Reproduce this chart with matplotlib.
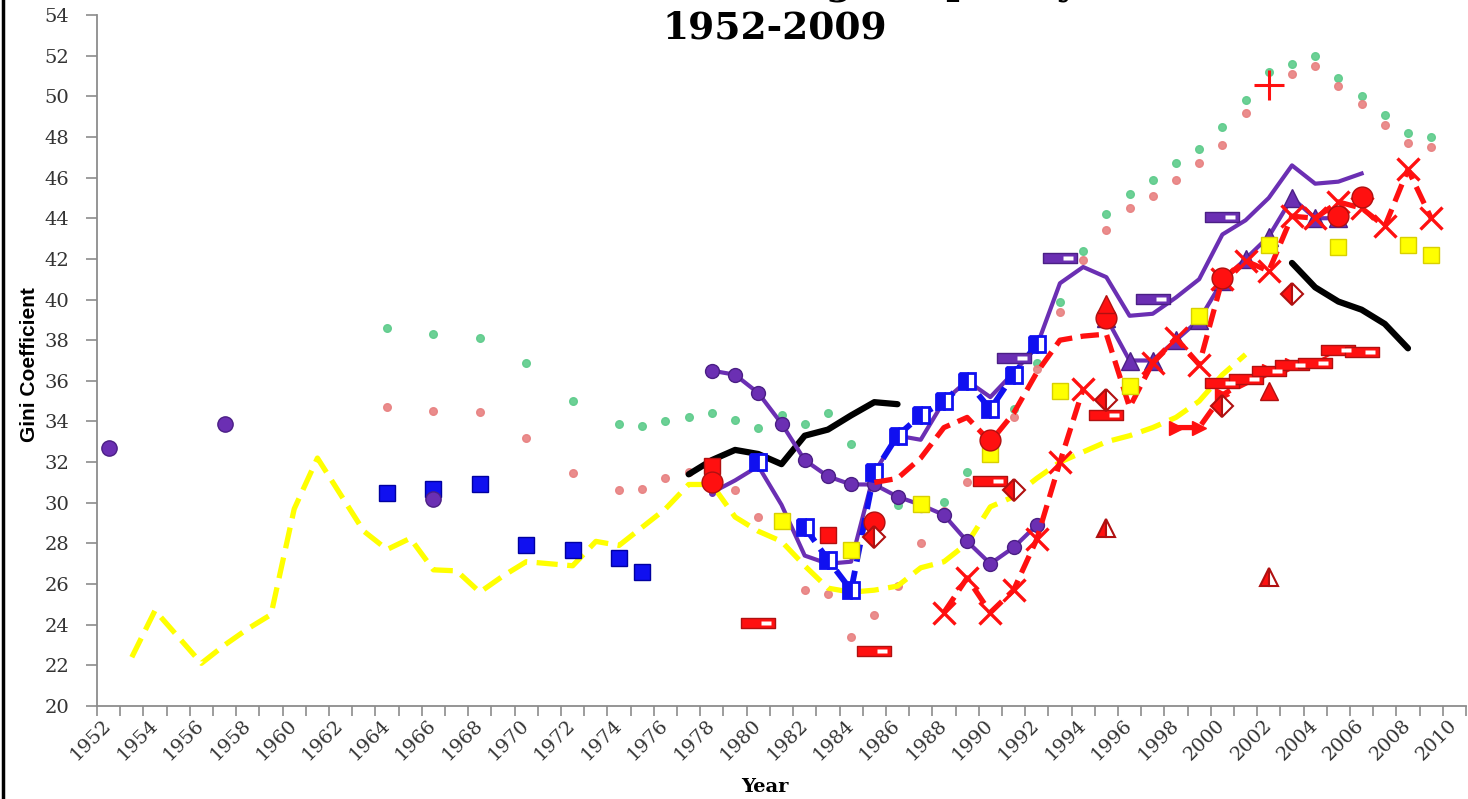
import matplotlib
matplotlib.use("Agg")
from matplotlib import pyplot as plt
from matplotlib.path import Path
from matplotlib.lines import Line2D
import numpy as np

nan = np.nan

# ---- data (Gini coefficient x 100) ----
yellow_years = list(range(1953, 2002))
yellow_gini = [22.4, 24.7, 23.4, 22.1, 23.0, 23.8, 24.5, 29.7, 32.2, 30.4,
               28.6, 27.7, 28.25, 26.7, 26.65, 25.6, 26.4, 27.1, 27.0, 26.9,
               28.1, 27.9, 28.8, 29.7, 30.9, 30.9, 29.3, 28.6, 28.1, 26.9,
               25.8, 25.6, 25.7, 25.9, 26.8, 27.1, 28.0, 29.8, 30.3, 31.2,
               32.0, 32.5, 33.0, 33.3, 33.7, 34.2, 35.0, 36.3, 37.3]

black1_years = list(range(1977, 1987))
black1_gini = [31.4, 32.1, 32.6, 32.4, 31.9, 33.3, 33.6, 34.3, 34.95, 34.85]
black2_years = list(range(2003, 2009))
black2_gini = [41.8, 40.6, 39.9, 39.5, 38.8, 37.6]

pcirc_years = list(range(1978, 1993))
pcirc_gini = [36.5, 36.3, 35.4, 33.9, 32.1, 31.3, 30.9, 30.9, 30.3, 29.9,
              29.4, 28.1, 27.0, 27.8, 28.9]

psolid_years = list(range(1978, 2007))
psolid_gini = [30.5, 31.1, 31.8, 29.9, 27.4, 27.0, 27.1, 31.5, 33.3, 33.1,
               35.0, 36.0, 35.2, 36.4, 37.7, 40.8, 41.6, 41.1, 39.2, 39.3,
               40.1, 41.0, 43.2, 43.9, 45.0, 46.6, 45.7, 45.8, 46.2]

ptri_years = list(range(1995, 2006))
ptri_gini = [39.1, 37.0, 37.0, 38.0, 39.0, 40.9, 42.0, 43.1, 45.0, 44.0, 44.0]

blue_open_years = list(range(1980, 1993))
blue_open_gini = [32.0, nan, 28.8, 27.2, 25.7, 31.5, 33.3, 34.3, 35.0, 36.0,
                  34.6, 36.3, 37.8]

blue_sq_years = [1964, 1966, 1968, 1970, 1972, 1974, 1975]
blue_sq_gini = [30.5, 30.7, 30.9, 27.9, 27.7, 27.3, 26.6]

pdot_years = [1952, 1957, 1966]
pdot_gini = [32.7, 33.9, 30.2]

green_years = [1964, 1966, 1968, 1970, 1972, 1974, 1975, 1976, 1977, 1978,
               1979, 1980, 1981, 1982, 1983, 1984, 1985, 1986, 1988, 1989,
               1991, 1992, 1993, 1994, 1995, 1996, 1997, 1998, 1999, 2000,
               2001, 2002, 2003, 2004, 2005, 2006, 2007, 2008, 2009]
green_gini = [38.6, 38.3, 38.1, 36.9, 35.0, 33.9, 33.8, 34.0, 34.2, 34.4,
              34.05, 33.7, 34.3, 33.9, 34.4, 32.9, 31.6, 29.9, 30.05, 31.5,
              34.6, 36.9, 39.9, 42.4, 44.2, 45.2, 45.9, 46.7, 47.4, 48.5,
              49.8, 51.2, 51.6, 52.0, 50.9, 50.0, 49.1, 48.2, 48.0]

pink_years = [1964, 1966, 1968, 1970, 1972, 1974, 1975, 1976, 1977, 1979,
              1980, 1982, 1983, 1984, 1985, 1986, 1987, 1988, 1989, 1991,
              1992, 1993, 1994, 1995, 1996, 1997, 1998, 1999, 2000, 2001,
              2003, 2004, 2005, 2006, 2007, 2008, 2009]
pink_gini = [34.7, 34.5, 34.45, 33.2, 31.45, 30.65, 30.7, 31.2, 31.5, 30.65,
             29.3, 25.7, 25.5, 23.4, 24.5, 25.9, 28.0, 29.6, 31.0, 34.2,
             36.6, 39.4, 41.95, 43.4, 44.5, 45.1, 45.9, 46.7, 47.6, 49.2,
             51.1, 51.5, 50.5, 49.6, 48.6, 47.7, 47.5]

red_dash_years = list(range(1985, 1998))
red_dash_gini = [31.0, 31.2, 32.2, 33.7, 34.2, 33.0, 34.4, 36.4, 38.0, 38.2,
                 38.3, 34.7, 36.9]

red_x_years = list(range(1988, 2010))
red_x_gini = [24.6, 26.3, 24.6, 25.7, 28.2, 32.0, 35.6, nan, nan, 36.9,
              38.1, 36.8, 41.0, 41.9, 41.4, 44.1, 44.0, 44.8, 44.5, 43.6,
              46.4, 44.0]

red_arrow_years = list(range(1998, 2004))
red_arrow_gini = [33.7, 33.7, 35.3, 36.0, 36.5, 36.8]

red_barline_years = list(range(2000, 2007))
red_barline_gini = [35.9, 36.1, 36.5, 36.8, 36.9, 37.5, 37.4]

red_bar_years = [1980, 1985, 1990, 1995]
red_bar_gini = [24.1, 22.7, 31.05, 34.3]

purple_bar_years = [1991, 1993, 1997, 2000]
purple_bar_gini = [37.1, 42.05, 40.05, 44.05]

red_circ_years = [1978, 1985, 1990, 1995, 2000, 2005, 2006]
red_circ_gini = [31.0, 29.05, 33.1, 39.1, 41.05, 44.1, 45.05]

red_sq_years = [1978, 1983]
red_sq_gini = [31.8, 28.4]

yellow_sq_years = [1981, 1984, 1987, 1990, 1993, 1996, 1999, 2002, 2005,
                   2008, 2009]
yellow_sq_gini = [29.1, 27.7, 29.95, 32.4, 35.5, 35.75, 39.2, 42.7, 42.6,
                  42.7, 42.2]

red_diam_years = [1985, 1991, 1995, 2000, 2003]
red_diam_gini = [28.3, 30.65, 35.05, 34.75, 40.25]

red_tri_years = [1995, 2002]
red_tri_gini = [39.8, 35.5]

red_otri_years = [1995, 2002]
red_otri_gini = [28.75, 26.35]

red_plus_years = [2002]
red_plus_gini = [50.55]

# colours
YELLOW = "#FFFF00"
PURPLE = "#6B2FB3"
BLUE = "#1010F0"
RED = "#FF1010"
DKRED = "#B01010"
GREEN = "#5CCB8A"
PINK = "#E88080"

# wide "dash" marker (Excel style) and its white highlight
BAR = Path([(-1, -0.26), (1, -0.26), (1, 0.26), (-1, 0.26), (-1, -0.26)],
           [Path.MOVETO, Path.LINETO, Path.LINETO, Path.LINETO, Path.CLOSEPOLY])
BAR_HI = Path([(-1, 0), (0.15, -0.09), (0.75, -0.09), (0.75, 0.09),
               (0.15, 0.09), (0.15, -0.09)],
              [Path.MOVETO, Path.MOVETO, Path.LINETO, Path.LINETO,
               Path.LINETO, Path.CLOSEPOLY])

fig = plt.figure(figsize=(14.68, 7.99), dpi=100)
ax = fig.add_axes([97 / 1468, 1 - 706 / 799, (1466 - 97) / 1468, (706 - 15) / 799])

ax.plot(green_years, green_gini, ls="none", marker="o", ms=5.5, mfc=GREEN,
        mec=GREEN, alpha=0.9, zorder=2)
ax.plot(pink_years, pink_gini, ls="none", marker="o", ms=5.5, mfc=PINK,
        mec=PINK, alpha=0.9, zorder=2)

ax.plot(yellow_years, yellow_gini, color=YELLOW, lw=3.8, dashes=(4, 1.8),
        zorder=3)
ax.plot(black1_years, black1_gini, color="black", lw=4.5, zorder=4,
        solid_capstyle="round")
ax.plot(black2_years, black2_gini, color="black", lw=4.5, zorder=4,
        solid_capstyle="round")

ax.plot(psolid_years, psolid_gini, color=PURPLE, lw=3.0, zorder=5)
ax.plot(psolid_years[:1], psolid_gini[:1], ls="none", marker="o", ms=4,
        color=PURPLE, zorder=5)
ax.plot(pcirc_years, pcirc_gini, color=PURPLE, lw=3.0, marker="o", ms=10,
        mfc=PURPLE, mec="#4B1F85", zorder=6)
ax.plot(ptri_years, ptri_gini, color=PURPLE, lw=3.0, marker="^", ms=13,
        mfc=PURPLE, mec="#4B1F85", zorder=6)

ax.plot(blue_open_years, blue_open_gini, color=BLUE, lw=4.2, dashes=(3, 1.6),
        marker="s", ms=11, mec=BLUE, mew=2, mfc=BLUE, fillstyle="left",
        markerfacecoloralt="white", zorder=7)
ax.plot(blue_sq_years, blue_sq_gini, ls="none", marker="s", ms=11, mfc=BLUE,
        mec="#0000A0", zorder=7)
ax.plot(pdot_years, pdot_gini, ls="none", marker="o", ms=11, mfc=PURPLE,
        mec="#4B1F85", zorder=7)

ax.plot(red_dash_years, red_dash_gini, color=RED, lw=3.8, dashes=(3.5, 1.6),
        zorder=8)
ax.plot(red_x_years, red_x_gini, color=RED, lw=3.8, dashes=(3.5, 1.6),
        marker="x", ms=16, mew=2.4, mec=RED, zorder=8)
ax.plot(red_arrow_years, red_arrow_gini, color=RED, lw=3.8, dashes=(3.5, 1.6),
        marker=">", ms=10, mfc=RED, mec=RED, zorder=8)
ax.plot(red_barline_years, red_barline_gini, color=RED, lw=1.5,
        marker=BAR, ms=25, mfc=RED, mec=DKRED, mew=1, zorder=9)
ax.plot(red_barline_years, red_barline_gini, ls="none", marker=BAR_HI, ms=25,
        mfc="white", mec="none", zorder=9)
ax.plot(red_bar_years, red_bar_gini, ls="none", marker=BAR, ms=25, mfc=RED,
        mec=DKRED, mew=1, zorder=9)
ax.plot(red_bar_years, red_bar_gini, ls="none", marker=BAR_HI, ms=25,
        mfc="white", mec="none", zorder=9)
ax.plot(purple_bar_years, purple_bar_gini, ls="none", marker=BAR, ms=25,
        mfc=PURPLE, mec="#4B1F85", mew=1, zorder=9)
ax.plot(purple_bar_years, purple_bar_gini, ls="none", marker=BAR_HI, ms=25,
        mfc="white", mec="none", zorder=9)

ax.plot(yellow_sq_years, yellow_sq_gini, ls="none", marker="s", ms=11,
        mfc=YELLOW, mec="#D8D000", zorder=10)
ax.plot(red_sq_years, red_sq_gini, ls="none", marker="s", ms=11, mfc=RED,
        mec=DKRED, zorder=10)
ax.plot(red_circ_years, red_circ_gini, ls="none", marker="o", ms=15, mfc=RED,
        mec=DKRED, zorder=11)
ax.plot(red_diam_years, red_diam_gini, ls="none", marker="D", ms=11, mfc=RED,
        mec=DKRED, mew=1.5, fillstyle="left", markerfacecoloralt="white",
        zorder=11)
ax.plot(red_tri_years, red_tri_gini, ls="none", marker="^", ms=13, mfc=RED,
        mec=DKRED, zorder=11)
ax.plot(red_otri_years, red_otri_gini, ls="none", marker="^", ms=13, mfc=RED,
        mec=DKRED, mew=1.5, fillstyle="left", markerfacecoloralt="white",
        zorder=11)
ax.plot(red_plus_years, red_plus_gini, ls="none", marker="+", ms=22, mew=2.2,
        mec=RED, zorder=11)

# axes
ax.set_xlim(1951.5, 2010.5)
ax.set_ylim(20, 54)
ax.set_yticks(range(20, 55, 2))
ax.set_xticks(range(1952, 2011, 2))
ax.set_xticks(np.arange(1951.5, 2011, 1), minor=True)
ax.tick_params(axis="x", which="major", length=0, pad=12)
ax.tick_params(axis="x", which="minor", length=7, color="#8c8c8c", width=1.2)
ax.tick_params(axis="y", length=8, color="#8c8c8c", width=1.2, pad=12)
for lab in ax.get_xticklabels():
    lab.set_rotation(45)
    lab.set_ha("right")
    lab.set_va("center")
    lab.set_rotation_mode("anchor")
for lab in ax.get_xticklabels() + ax.get_yticklabels():
    lab.set_family("DejaVu Serif")
    lab.set_fontsize(14)
    lab.set_color("#333333")
for side in ("top", "right"):
    ax.spines[side].set_visible(False)
for side in ("left", "bottom"):
    ax.spines[side].set_color("#8c8c8c")
    ax.spines[side].set_linewidth(1.3)

# texts (the first title line is cut off by the top edge in the reference)
fig.text(1282 / 1468, 1.008, "Various Estimates of Rising Inequality in China,",
         ha="right", va="baseline", family="DejaVu Serif", weight="bold",
         fontsize=27)
fig.text(0.528, 1 - 28 / 799, "1952-2009", ha="center", va="center",
         family="DejaVu Serif", weight="bold", fontsize=27)
fig.text(0.521, 1 - 787 / 799, "Year", ha="center", va="center",
         family="DejaVu Serif", weight="bold", fontsize=14)
fig.text(30 / 1468, 1 - 365 / 799, "Gini Coefficient", ha="center",
         va="center", rotation=90, family=["Liberation Sans", "DejaVu Sans"],
         weight="bold", fontsize=15)

# frame edge on the left of the slide
fig.add_artist(Line2D([3 / 1468, 3 / 1468], [0, 1], color="black", lw=2.5))

fig.savefig("out.png", dpi=100)
